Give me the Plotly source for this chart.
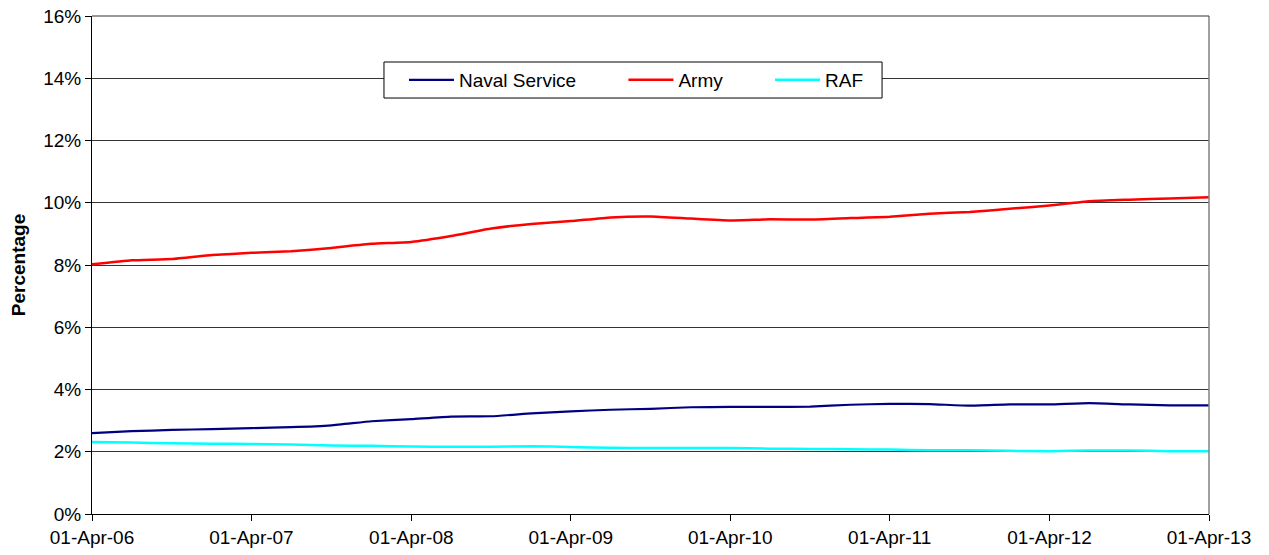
import plotly.graph_objects as go

dates = ["2006-04-01", "2006-07-01", "2006-10-01", "2007-01-01",
         "2007-04-01", "2007-07-01", "2007-10-01", "2008-01-01",
         "2008-04-01", "2008-07-01", "2008-10-01", "2009-01-01",
         "2009-04-01", "2009-07-01", "2009-10-01", "2010-01-01",
         "2010-04-01", "2010-07-01", "2010-10-01", "2011-01-01",
         "2011-04-01", "2011-07-01", "2011-10-01", "2012-01-01",
         "2012-04-01", "2012-07-01", "2012-10-01", "2013-01-01",
         "2013-04-01"]

naval = [2.60, 2.66, 2.70, 2.73, 2.76, 2.79, 2.85, 2.98, 3.05, 3.13,
         3.14, 3.23, 3.30, 3.35, 3.38, 3.43, 3.44, 3.44, 3.45, 3.51,
         3.54, 3.53, 3.48, 3.52, 3.52, 3.56, 3.52, 3.49, 3.49]
army = [8.02, 8.15, 8.19, 8.32, 8.39, 8.44, 8.55, 8.68, 8.74, 8.93,
        9.17, 9.32, 9.41, 9.53, 9.56, 9.49, 9.43, 9.47, 9.46, 9.51,
        9.55, 9.65, 9.70, 9.81, 9.91, 10.05, 10.10, 10.14, 10.18]
raf = [2.31, 2.30, 2.27, 2.26, 2.25, 2.23, 2.20, 2.19, 2.17, 2.16,
       2.16, 2.18, 2.15, 2.13, 2.12, 2.12, 2.12, 2.10, 2.09, 2.08,
       2.07, 2.05, 2.05, 2.03, 2.02, 2.04, 2.04, 2.02, 2.02]

y_ticks = [0.00, 0.02, 0.04, 0.06, 0.08, 0.10, 0.12, 0.14, 0.16]
y_tick_labels = ["0%", "2%", "4%", "6%", "8%", "10%", "12%", "14%", "16%"]

series_names = ["Naval Service", "Army", "RAF"]
series_colors = ["#000080", "#FF0000", "#00FFFF"]
series_widths = [2.2, 2.5, 2.5]
PAD = "\u00a0" * 8

fig = go.Figure()
for name, vals, col, w in zip(series_names, [naval, army, raf], series_colors, series_widths):
    fig.add_trace(go.Scatter(
        x=dates, y=[v / 100 for v in vals], mode="lines",
        name=name + (PAD if name != "RAF" else ""),
        line=dict(color=col, width=w, shape="spline", smoothing=0.4),
    ))

font = "Liberation Sans, Arial, sans-serif"
fig.update_layout(
    width=1269, height=555,
    margin=dict(l=92, r=60, t=16, b=41),
    plot_bgcolor="white", paper_bgcolor="white",
    font=dict(family=font, size=19, color="black"),
    showlegend=True,
    legend=dict(
        orientation="h", x=0.2793, xanchor="left", y=0.9096, yanchor="top",
        bgcolor="rgba(0,0,0,0)", borderwidth=0,
        itemwidth=45, font=dict(size=19),
    ),
    xaxis=dict(
        type="date", range=["2006-04-01", "2013-04-01"],
        tick0="2006-04-01", dtick="M12", tickformat="%d-%b-%y",
        ticks="outside", ticklen=6, tickcolor="black",
        showline=True, linecolor="black", linewidth=1,
        showgrid=False, zeroline=False, automargin=False,
        ticklabeloverflow="allow",
        tickfont=dict(size=19),
    ),
    yaxis=dict(
        range=[0, 0.16], tickmode="array", tickvals=y_ticks, ticktext=y_tick_labels,
        ticks="outside", ticklen=6, tickcolor="black",
        showline=True, linecolor="black", linewidth=1,
        showgrid=True, gridcolor="#333333", gridwidth=1,
        zeroline=False, automargin=False,
        ticklabeloverflow="allow",
        tickfont=dict(size=19),
        title=dict(text="<b>Percentage</b>", font=dict(size=19), standoff=12),
    ),
    shapes=[
        dict(type="line", xref="paper", yref="paper", x0=1, x1=1, y0=0, y1=1,
             line=dict(color="#808080", width=1.5)),
        dict(type="line", xref="paper", yref="paper", x0=0, x1=1, y0=1, y1=1,
             line=dict(color="#333333", width=1)),
        dict(type="rect", xref="paper", yref="paper", x0=0.2614, x1=0.7073,
             y0=0.8353, y1=0.9076, fillcolor="white",
             line=dict(color="black", width=1), layer="above"),
    ],
)

fig.write_html("out.html", config={"displayModeBar": False},
               post_script="document.body.style.margin='0';")
